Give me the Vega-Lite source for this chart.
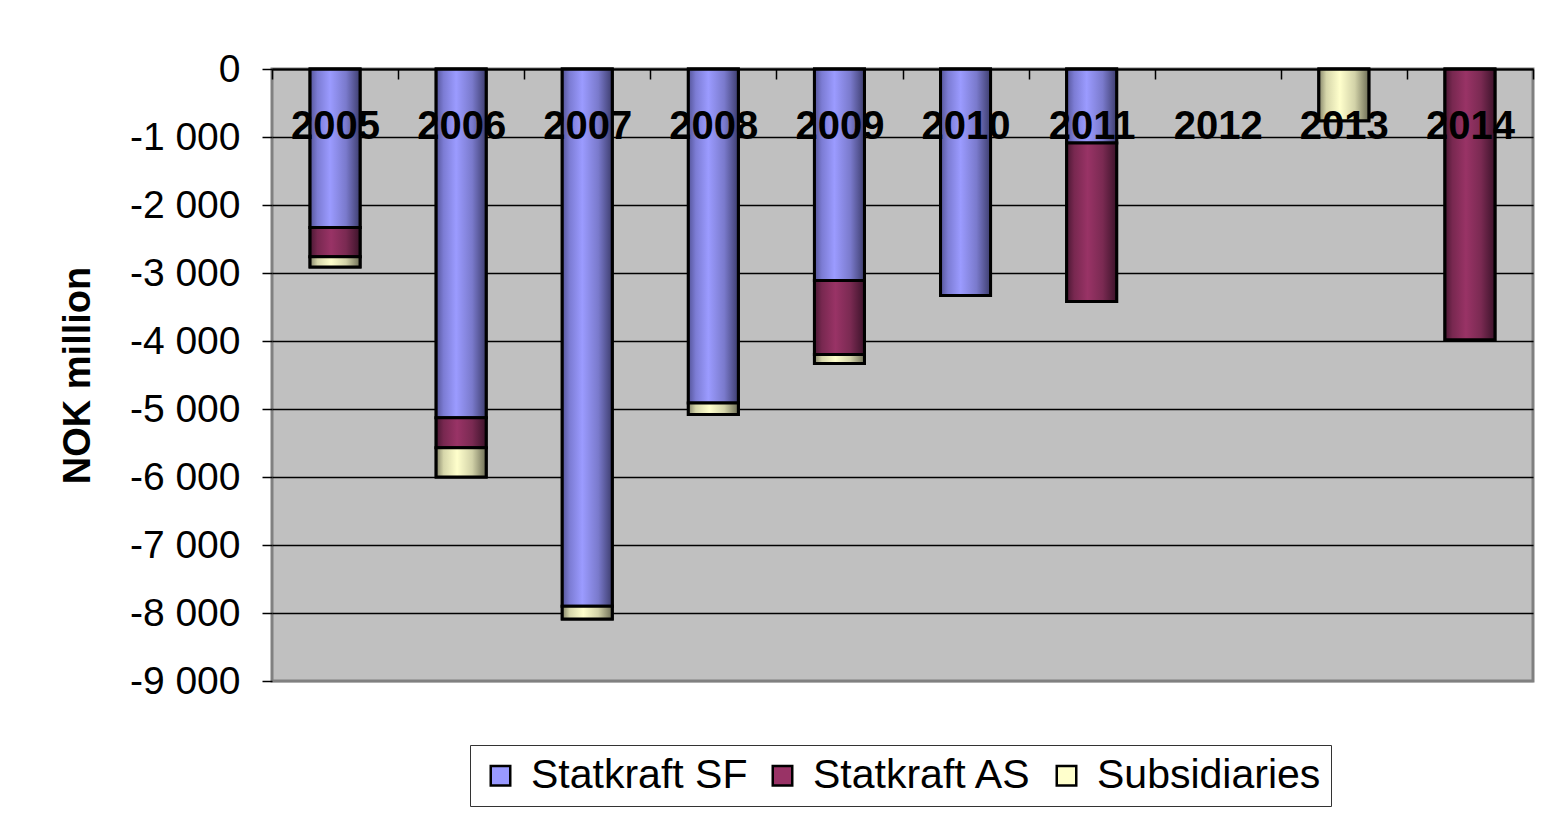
{
  "$schema": "https://vega.github.io/schema/vega-lite/v6.json",
  "width": 1261,
  "height": 612,
  "autosize": "none",
  "padding": {"left": 272, "top": 69, "right": 11, "bottom": 138},
  "background": "white",
  "data": {
    "values": [
      {"year": "2005", "series": "Statkraft SF", "ord": 1, "value": -2330},
      {"year": "2005", "series": "Statkraft AS", "ord": 2, "value": -430},
      {"year": "2005", "series": "Subsidiaries", "ord": 3, "value": -150},
      {"year": "2006", "series": "Statkraft SF", "ord": 1, "value": -5130},
      {"year": "2006", "series": "Statkraft AS", "ord": 2, "value": -440},
      {"year": "2006", "series": "Subsidiaries", "ord": 3, "value": -430},
      {"year": "2007", "series": "Statkraft SF", "ord": 1, "value": -7900},
      {"year": "2007", "series": "Subsidiaries", "ord": 3, "value": -190},
      {"year": "2008", "series": "Statkraft SF", "ord": 1, "value": -4910},
      {"year": "2008", "series": "Subsidiaries", "ord": 3, "value": -170},
      {"year": "2009", "series": "Statkraft SF", "ord": 1, "value": -3110},
      {"year": "2009", "series": "Statkraft AS", "ord": 2, "value": -1090},
      {"year": "2009", "series": "Subsidiaries", "ord": 3, "value": -130},
      {"year": "2010", "series": "Statkraft SF", "ord": 1, "value": -3330},
      {"year": "2011", "series": "Statkraft SF", "ord": 1, "value": -1090},
      {"year": "2011", "series": "Statkraft AS", "ord": 2, "value": -2330},
      {"year": "2013", "series": "Subsidiaries", "ord": 3, "value": -760},
      {"year": "2014", "series": "Statkraft AS", "ord": 2, "value": -3980}
    ]
  },
  "transform": [
    {"stack": "value", "groupby": ["year"], "sort": [{"field": "ord", "order": "ascending"}], "as": ["v0", "v1"]}
  ],
  "encoding": {
    "x": {
      "field": "year",
      "type": "nominal",
      "scale": {
        "domain": ["2005", "2006", "2007", "2008", "2009", "2010", "2011", "2012", "2013", "2014"],
        "paddingInner": 0,
        "paddingOuter": 0
      },
      "axis": {
        "orient": "top",
        "zindex": 2,
        "title": null,
        "labelAngle": 0,
        "labelFont": "Liberation Sans",
        "labelFontWeight": "bold",
        "labelFontSize": 40,
        "labelColor": "black",
        "labelBaseline": "alphabetic",
        "labelPadding": -59,
        "labelDx": 3,
        "domain": true,
        "domainColor": "black",
        "domainWidth": 2,
        "ticks": true,
        "tickBand": "extent",
        "tickSize": -10,
        "tickColor": "black",
        "tickWidth": 1.5,
        "grid": false
      }
    },
    "y": {
      "field": "v0",
      "type": "quantitative",
      "scale": {"domain": [-9000, 0], "nice": false, "zero": false},
      "axis": {
        "values": [0, -1000, -2000, -3000, -4000, -5000, -6000, -7000, -8000, -9000],
        "labelExpr": "(datum.value < 0 ? '-' : '') + replace(format(abs(datum.value), ','), ',', ' ')",
        "labelFont": "Liberation Sans",
        "labelFontSize": 39,
        "labelColor": "black",
        "labelPadding": 22,
        "tickSize": 10,
        "tickColor": "black",
        "tickWidth": 1.5,
        "domain": false,
        "grid": true,
        "gridColor": {"condition": {"test": "datum.value === -9000", "value": "#808080"}, "value": "black"},
        "gridWidth": 1.5,
        "title": "NOK million",
        "titleFont": "Liberation Sans",
        "titleFontWeight": "bold",
        "titleFontSize": 38,
        "titleColor": "black",
        "titlePadding": 32
      }
    },
    "y2": {"field": "v1"}
  },
  "layer": [
    {
      "mark": {"type": "bar", "width": 50, "stroke": "black", "strokeWidth": 3},
      "encoding": {
        "fill": {
          "field": "series",
          "type": "nominal",
          "scale": {
            "domain": ["Statkraft SF", "Statkraft AS", "Subsidiaries"],
            "range": ["#9999FF", "#993366", "#FFFFCC"]
          },
          "legend": {
            "orient": "none",
            "legendX": 198,
            "legendY": 676,
            "direction": "horizontal",
            "title": null,
            "labelFont": "Liberation Sans",
            "labelFontSize": 41,
            "labelColor": "black",
            "labelLimit": 600,
            "labelOffset": 10,
            "columnPadding": 14,
            "symbolType": "square",
            "symbolSize": 380,
            "symbolStrokeColor": "black",
            "symbolStrokeWidth": 2.5,
            "strokeColor": "#333333",
            "fillColor": "white",
            "padding": 10
          }
        }
      }
    },
    {
      "transform": [{"filter": "datum.series === 'Statkraft SF'"}],
      "mark": {
        "type": "bar",
        "width": 50,
        "stroke": "black",
        "strokeWidth": 3,
        "fill": {
          "gradient": "linear", "x1": 0, "y1": 0, "x2": 1, "y2": 0,
          "stops": [
            {"offset": 0, "color": "#55559a"},
            {"offset": 0.15, "color": "#7c7cd4"},
            {"offset": 0.4, "color": "#9b9bff"},
            {"offset": 0.72, "color": "#7a7acc"},
            {"offset": 1, "color": "#3d3d6e"}
          ]
        }
      },
      "encoding": {}
    },
    {
      "transform": [{"filter": "datum.series === 'Statkraft AS'"}],
      "mark": {
        "type": "bar",
        "width": 50,
        "stroke": "black",
        "strokeWidth": 3,
        "fill": {
          "gradient": "linear", "x1": 0, "y1": 0, "x2": 1, "y2": 0,
          "stops": [
            {"offset": 0, "color": "#4a1833"},
            {"offset": 0.15, "color": "#782850"},
            {"offset": 0.42, "color": "#993366"},
            {"offset": 0.72, "color": "#7a2a52"},
            {"offset": 1, "color": "#3c132a"}
          ]
        }
      },
      "encoding": {}
    },
    {
      "transform": [{"filter": "datum.series === 'Subsidiaries'"}],
      "mark": {
        "type": "bar",
        "width": 50,
        "stroke": "black",
        "strokeWidth": 3,
        "fill": {
          "gradient": "linear", "x1": 0, "y1": 0, "x2": 1, "y2": 0,
          "stops": [
            {"offset": 0, "color": "#85856a"},
            {"offset": 0.15, "color": "#d6d6aa"},
            {"offset": 0.42, "color": "#ffffcc"},
            {"offset": 0.72, "color": "#d2d2a8"},
            {"offset": 1, "color": "#6e6e56"}
          ]
        }
      },
      "encoding": {}
    }
  ],
  "config": {
    "view": {"fill": "#C0C0C0", "stroke": "#808080", "strokeWidth": 3},
    "axis": {"labelOverlap": false}
  }
}
